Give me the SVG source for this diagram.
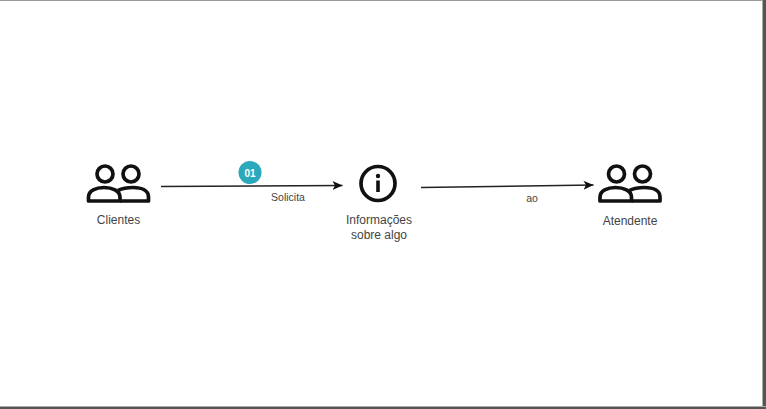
<svg xmlns="http://www.w3.org/2000/svg" width="766" height="409" viewBox="0 0 766 409">
  <style>
    .ico{fill:none;stroke:#111;stroke-width:3.7;stroke-linejoin:round}
    .lbl{font-family:"Liberation Sans",Arial,sans-serif;font-size:12px;fill:#444;text-anchor:middle}
    .sm{font-size:10.5px}
    .conn{fill:none;stroke:#222;stroke-width:1.6}
  </style>
  <defs>
    <marker id="arrow" markerUnits="userSpaceOnUse" markerWidth="12" markerHeight="12" refX="10" refY="6" orient="auto">
      <path d="M0 1.500 L10 6 L0 10.500 L2.500 6 Z" fill="#111"/>
    </marker>
    <g id="people">
      <circle cx="105" cy="174" r="8" class="ico"/>
      <circle cx="131" cy="174" r="8" class="ico"/>
      <path d="M88.500 201 V197 C88.500 190.500 96 187.500 104 187.500 C112 187.500 120 190.500 120 197 V201 Z" class="ico"/>
      <path d="M118 190.500 C122 188.500 127 187.500 133 187.500 C142 187.500 148.500 190.500 148.500 197 V201 H120" class="ico"/>
    </g>
  </defs>
  <rect width="766" height="409" fill="#fff"/>
  <rect x="0" y="0" width="766" height="1" fill="#999"/>
  <rect x="762" y="0" width="1" height="409" fill="#aaa"/>
  <rect x="763" y="0" width="3" height="409" fill="#555"/>
  <rect x="0" y="406" width="766" height="1" fill="#aaa"/>
  <rect x="0" y="407" width="766" height="2" fill="#555"/>
  <g id="connectors">
    <path d="M161 186.500 L342.500 185.500" class="conn" marker-end="url(#arrow)"/>
    <path d="M421 187.500 L593.500 185" class="conn" marker-end="url(#arrow)"/>
  </g>
  <g id="clientes">
    <use href="#people"/>
    <text x="118.500" y="224" class="lbl">Clientes</text>
  </g>
  <g id="badge">
    <circle cx="250" cy="172.500" r="11.500" fill="#2aa9bd"/>
    <text x="250" y="176.500" font-family="Liberation Sans,Arial,sans-serif" font-size="10" font-weight="700" fill="#fff" text-anchor="middle">01</text>
  </g>
  <g id="solicita"><text x="288" y="201" class="lbl sm">Solicita</text></g>
  <g id="informacoes">
    <circle cx="378" cy="183.500" r="17" class="ico"/>
    <circle cx="378" cy="176" r="2.200" fill="#111"/>
    <rect x="376.200" y="180.500" width="3.600" height="11.500" fill="#111"/>
    <text x="379" y="224" class="lbl">Informações</text>
    <text x="379" y="239" class="lbl">sobre algo</text>
  </g>
  <g id="ao"><text x="532" y="202" class="lbl sm">ao</text></g>
  <g id="atendente">
    <use href="#people" x="511.500"/>
    <text x="630" y="224.500" class="lbl">Atendente</text>
  </g>
</svg>
